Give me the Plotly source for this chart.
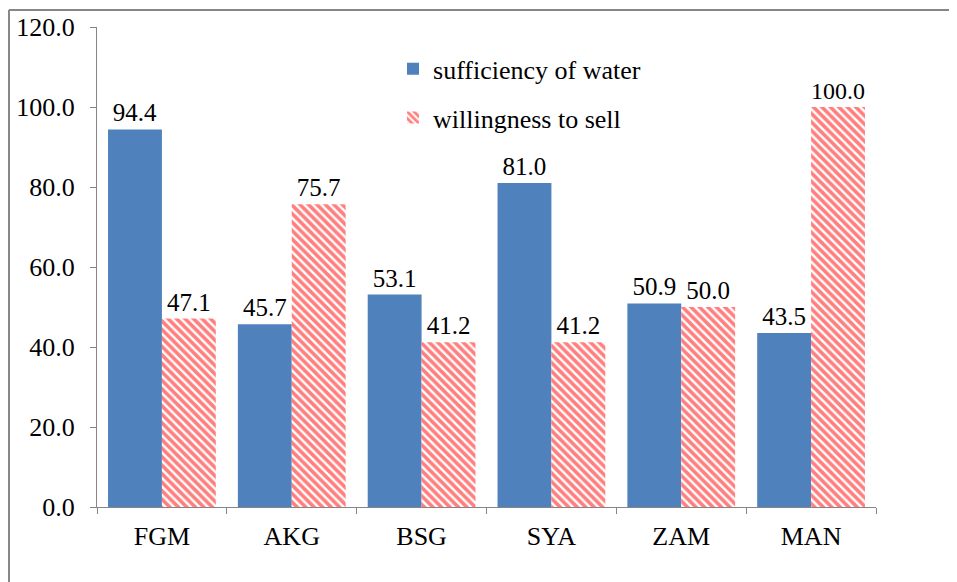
import plotly.graph_objects as go

# Sites and series values (percent)
sites = ["FGM", "AKG", "BSG", "SYA", "ZAM", "MAN"]
sufficiency = [94.4, 45.7, 53.1, 81.0, 50.9, 43.5]
willingness = [47.1, 75.7, 41.2, 41.2, 50.0, 100.0]

FONT = "Liberation Serif, Times New Roman, serif"
AXIS_GREY = "#868686"
FS = 26

fig = go.Figure()

fig.add_trace(
    go.Bar(
        x=sites,
        y=sufficiency,
        name="sufficiency of water",
        legendgroup="a",
        marker=dict(color="#4F81BD", line=dict(width=0)),
        text=[f"{v:.1f}" for v in sufficiency],
        textposition="outside",
        cliponaxis=False,
        textfont=dict(family=FONT, size=25, color="black"),
    )
)

fig.add_trace(
    go.Bar(
        x=sites,
        y=willingness,
        name="willingness to sell",
        legendgroup="b",
        marker=dict(
            color="white",
            line=dict(width=0),
            pattern=dict(shape="\\", fgcolor="#FF0000", bgcolor="white",
                         size=6, solidity=0.6),
        ),
        text=[f"{v:.1f}" for v in willingness],
        textposition="outside",
        cliponaxis=False,
        textfont=dict(family=FONT, size=25, color="black"),
    )
)

# outer frame of the original figure (only top and left edges visible)
fig.add_shape(type="line", xref="paper", yref="paper",
              x0=-0.113, x1=1.2, y0=1.0354, y1=1.0354,
              line=dict(color=AXIS_GREY, width=2))
fig.add_shape(type="line", xref="paper", yref="paper",
              x0=-0.113, x1=-0.113, y0=-0.2, y1=1.0354,
              line=dict(color=AXIS_GREY, width=2))

fig.update_layout(
    width=957,
    height=582,
    # page body has an 8px margin, so everything is nudged up/left by 8px
    margin=dict(l=89, r=89, t=19, b=83),
    paper_bgcolor="white",
    plot_bgcolor="white",
    barmode="group",
    bargap=0.17,
    bargroupgap=0,
    font=dict(family=FONT, size=FS, color="black"),
    showlegend=True,
    legend=dict(
        x=0.38,
        y=0.962,
        xanchor="left",
        yanchor="top",
        font=dict(family=FONT, size=FS),
        bgcolor="rgba(0,0,0,0)",
        tracegroupgap=12,
        itemwidth=30,
    ),
    xaxis=dict(
        automargin=False,
        showline=True,
        linecolor=AXIS_GREY,
        linewidth=1,
        ticks="outside",
        tickson="boundaries",
        ticklen=6,
        tickcolor=AXIS_GREY,
        showgrid=False,
        ticklabelstandoff=6,
        tickfont=dict(family=FONT, size=FS),
    ),
    yaxis=dict(
        automargin=False,
        range=[0, 120],
        dtick=20,
        tickformat=".1f",
        showline=True,
        linecolor=AXIS_GREY,
        linewidth=1,
        ticks="outside",
        ticklen=6,
        tickcolor=AXIS_GREY,
        showgrid=False,
        zeroline=False,
        ticklabelstandoff=10,
        tickfont=dict(family=FONT, size=FS),
    ),
)

fig.write_html("out.html")
